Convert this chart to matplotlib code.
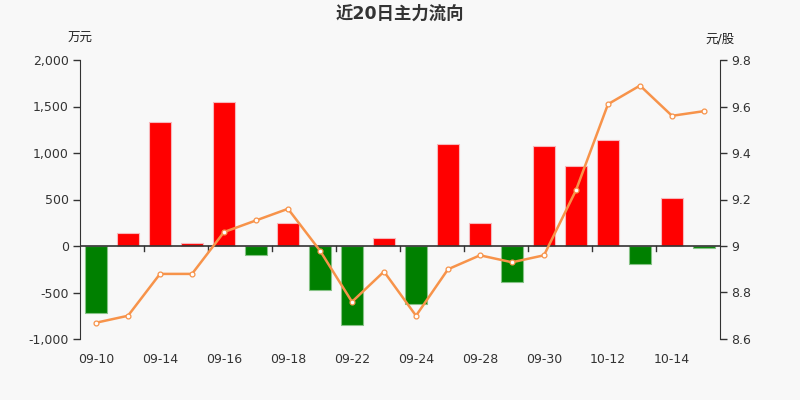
import matplotlib
matplotlib.use("Agg")
import matplotlib.pyplot as plt
from matplotlib.ticker import FuncFormatter, FixedLocator
import numpy as np

plt.rcParams['font.family'] = ['DejaVu Sans', 'Noto Sans CJK SC']

# -------------------------- Data --------------------------
dates = ["09-10", "09-11", "09-14", "09-15", "09-16", "09-17", "09-18", "09-21", "09-22", "09-23",
         "09-24", "09-25", "09-28", "09-29", "09-30", "10-09", "10-12", "10-13", "10-14", "10-15"]
net_flow = [-720, 145, 1335, 30, 1550, -100, 250, -470, -850, 90,
            -620, 1100, 250, -390, 1075, 860, 1140, -195, 520, -20]
price = [8.67, 8.70, 8.88, 8.88, 9.06, 9.11, 9.16, 8.98, 8.76, 8.89,
         8.70, 8.90, 8.96, 8.93, 8.96, 9.24, 9.61, 9.69, 9.56, 9.58]

title = "近20日主力流向"
left_unit = "万元"
right_unit = "元/股"

# -------------------------- Plot --------------------------
bg = "#f8f8f8"
axis_col = "#333333"
fig = plt.figure(figsize=(8, 4), dpi=100, facecolor=bg)
ax = fig.add_axes([0.1, 0.1525, 0.8, 0.6975])
ax.set_facecolor(bg)

x = np.arange(len(dates))
colors = ["#ff0000" if v >= 0 else "#008000" for v in net_flow]
edges = ["#f7b8bc" if v >= 0 else "#86c286" for v in net_flow]
ax.bar(x, net_flow, width=0.7, color=colors, edgecolor=edges, linewidth=0.8, zorder=2)

ax.set_xlim(-0.5, len(dates) - 0.5)
ax.set_ylim(-1000, 2000)
ax.set_yticks([-1000, -500, 0, 500, 1000, 1500, 2000])
ax.yaxis.set_major_formatter(FuncFormatter(lambda v, p: f"{int(v):,}"))

for s in ["top", "right", "bottom"]:
    ax.spines[s].set_visible(False)
ax.spines["left"].set_color(axis_col)
ax.axhline(0, color=axis_col, linewidth=1.2, zorder=3)

# category labels every other bar, tick marks at bar boundaries on the zero line
ax.set_xticks(x[::2])
ax.set_xticklabels(dates[::2])
ax.tick_params(axis="x", length=0, pad=10, labelsize=9, colors=axis_col)
for b in np.arange(1.5, len(dates) - 1, 2):
    ax.plot([b, b], [0, -55], color=axis_col, linewidth=1, zorder=3, clip_on=False)
ax.tick_params(axis="y", length=5, width=1, labelsize=9, colors=axis_col, pad=3)

ax2 = ax.twinx()
ax2.plot(x, price, color="#f7934a", linewidth=1.8, marker="o", markersize=3.5,
         markerfacecolor="white", markeredgecolor="#f7934a", markeredgewidth=0.9, zorder=4)
ax2.set_ylim(8.6, 9.8)
ax2.yaxis.set_major_locator(FixedLocator([8.6, 8.8, 9.0, 9.2, 9.4, 9.6, 9.8]))
ax2.yaxis.set_major_formatter(FuncFormatter(lambda v, p: f"{v:g}"))
for s in ["top", "left", "bottom"]:
    ax2.spines[s].set_visible(False)
ax2.spines["right"].set_color(axis_col)
ax2.tick_params(axis="y", length=5, width=1, labelsize=9, colors=axis_col, pad=3)

fig.text(0.5, 0.965, title, ha="center", va="center", fontsize=12.5, fontweight="bold", color=axis_col)
fig.text(0.1, 0.903, left_unit, ha="center", va="center", fontsize=9, fontweight="medium", color="#222222")
fig.text(0.9, 0.903, right_unit, ha="center", va="center", fontsize=9, fontweight="medium", color="#222222")

fig.savefig("out.png", dpi=100, facecolor=bg)
